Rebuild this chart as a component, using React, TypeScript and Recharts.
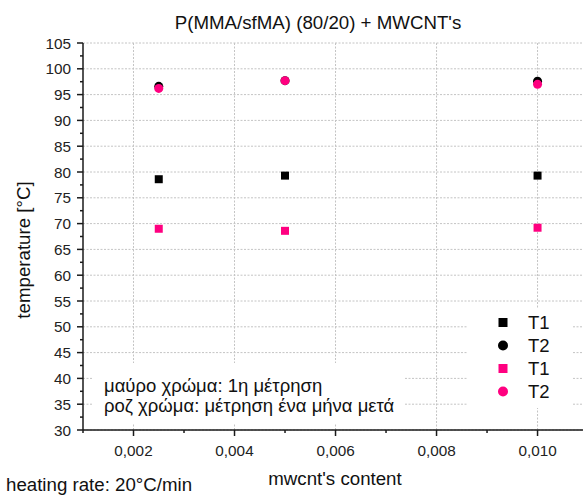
import { ScatterChart, Scatter, XAxis, YAxis, CartesianGrid, Legend } from 'recharts';

// x = mwcnt's content, y = temperature [°C]
const mwcntContent = [0.0025, 0.005, 0.01];
const t1First = [78.6, 79.3, 79.3];
const t2First = [96.6, 97.7, 97.6];
const t1Later = [69.0, 68.6, 69.2];
const t2Later = [96.2, 97.7, 97.0];

const xMajorTicks = [0.002, 0.004, 0.006, 0.008, 0.01];
const xMinorTicks = [0.001, 0.003, 0.005, 0.007, 0.009];
const yMajorTicks = [30, 35, 40, 45, 50, 55, 60, 65, 70, 75, 80, 85, 90, 95, 100, 105];
const yMinorTicks = [32.5, 37.5, 42.5, 47.5, 52.5, 57.5, 62.5, 67.5, 72.5, 77.5, 82.5, 87.5, 92.5, 97.5, 102.5];

const legendItems = [
  { name: 'T1', color: '#000000', shape: 'square' },
  { name: 'T2', color: '#000000', shape: 'circle' },
  { name: 'T1', color: '#ff0080', shape: 'square' },
  { name: 'T2', color: '#ff0080', shape: 'circle' },
];

const FONT = '"Liberation Sans", Arial, sans-serif';
const AXIS = '#1a1a1a';
const PINK = '#ff0080';

const toPoints = (ys: number[]) => mwcntContent.map((x, i) => ({ x, y: ys[i] }));

const fmtX = (v: number) => v.toFixed(3).replace('.', ',');

const BottomTick = ({ x, y, payload }: any) => {
  const major = xMajorTicks.includes(payload.value);
  return (
    <g>
      <line x1={x} x2={x} y1={y} y2={y + (major ? 6 : 3)} stroke={AXIS} strokeWidth={1.5} />
      {major && (
        <text x={x} y={y + 25.5} textAnchor="middle" fontSize={15.3} fill="#222" fontFamily={FONT}>
          {fmtX(payload.value)}
        </text>
      )}
    </g>
  );
};

const TopTick = ({ x, y, payload }: any) => {
  const major = xMajorTicks.includes(payload.value);
  return <line x1={x} x2={x} y1={y} y2={y + (major ? 7 : 4)} stroke={AXIS} strokeWidth={1.5} />;
};

const LeftTick = ({ x, y, payload }: any) => {
  const major = yMajorTicks.includes(payload.value);
  return (
    <g>
      <line x1={x} x2={x - (major ? 6 : 3)} y1={y} y2={y} stroke={AXIS} strokeWidth={1.5} />
      {major && (
        <text x={x - 12} y={y} dy="0.36em" textAnchor="end" fontSize={15.3} fill="#222" fontFamily={FONT}>
          {payload.value}
        </text>
      )}
    </g>
  );
};

const RightTick = ({ x, y, payload }: any) => {
  const major = yMajorTicks.includes(payload.value);
  return <line x1={x} x2={x - (major ? 4 : 2)} y1={y} y2={y} stroke={AXIS} strokeWidth={1.5} />;
};

const LegendBox = () => (
  <div style={{ background: '#fff', width: 105, height: 100, paddingTop: 2.5, boxSizing: 'border-box', fontFamily: FONT }}>
    {legendItems.map((item, i) => (
      <div key={i} style={{ display: 'flex', alignItems: 'center', height: 23 }}>
        <svg width={60} height={23} style={{ flex: 'none' }}>
          {item.shape === 'square' ? (
            <rect x={30.5} y={7} width={9} height={9} fill={item.color} />
          ) : (
            <circle cx={35} cy={11.5} r={5} fill={item.color} />
          )}
        </svg>
        <span style={{ fontSize: 18.5, lineHeight: '23px', color: '#111' }}>{item.name}</span>
      </div>
    ))}
  </div>
);

export default function App() {
  return (
    <div style={{ position: 'absolute', left: 0, top: 0, width: 583, height: 495, background: '#fff' }}>
      <ScatterChart width={583} height={495} margin={{ top: 43, right: 0, bottom: 35, left: 43 }}>
        <CartesianGrid
          stroke="#c4c4c4"
          strokeDasharray="2 1.5"
          verticalValues={xMajorTicks}
          horizontalValues={yMajorTicks}
        />
        <XAxis
          dataKey="x"
          type="number"
          domain={[0.001, 0.0109]}
          allowDataOverflow
          ticks={[...xMinorTicks, ...xMajorTicks].sort((a, b) => a - b)}
          interval={0}
          height={30}
          tickSize={0}
          tickMargin={0}
          tickLine={false}
          tick={<BottomTick />}
          axisLine={{ stroke: AXIS, strokeWidth: 1.5 }}
        />
        <XAxis
          xAxisId="top"
          orientation="top"
          type="number"
          domain={[0.001, 0.0109]}
          allowDataOverflow
          ticks={[...xMinorTicks, ...xMajorTicks].sort((a, b) => a - b)}
          interval={0}
          height={0}
          tickSize={0}
          tickMargin={0}
          tickLine={false}
          tick={<TopTick />}
          axisLine={{ stroke: AXIS, strokeWidth: 1.5 }}
        />
        <YAxis
          dataKey="y"
          type="number"
          domain={[30, 105]}
          allowDataOverflow
          ticks={[...yMinorTicks, ...yMajorTicks].sort((a, b) => a - b)}
          interval={0}
          width={40}
          tickSize={0}
          tickMargin={0}
          tickLine={false}
          tick={<LeftTick />}
          axisLine={{ stroke: AXIS, strokeWidth: 1.5 }}
        />
        <YAxis
          yAxisId="right"
          orientation="right"
          type="number"
          domain={[30, 105]}
          allowDataOverflow
          ticks={yMajorTicks}
          interval={0}
          width={0}
          tickSize={0}
          tickMargin={0}
          tickLine={false}
          tick={<RightTick />}
          axisLine={false}
        />
        <Legend
          layout="horizontal"
          verticalAlign="middle"
          align="center"
          content={<LegendBox />}
          wrapperStyle={{ left: 468, top: 308, width: 105, height: 100 }}
        />
        <Scatter name="T1" data={toPoints(t1First)} fill="#000" shape="square" size={72} isAnimationActive={false} />
        <Scatter name="T2" data={toPoints(t2First)} fill="#000" shape="circle" size={78} isAnimationActive={false} />
        <Scatter name="T1" data={toPoints(t1Later)} fill={PINK} shape="square" size={72} isAnimationActive={false} />
        <Scatter name="T2" data={toPoints(t2Later)} fill={PINK} shape="circle" size={78} isAnimationActive={false} />
      </ScatterChart>
      <svg
        width={583}
        height={495}
        style={{ position: 'absolute', left: 0, top: 0, pointerEvents: 'none' }}
        fontFamily={FONT}
      >
        <text x={318} y={29} textAnchor="middle" fontSize={18.7} fill="#111">
          P(MMA/sfMA) (80/20) + MWCNT's
        </text>
        <text x={29.5} y={250} transform="rotate(-90 29.5 250)" textAnchor="middle" fontSize={18.7} fill="#111">
          temperature [°C]
        </text>
        <text x={335} y={485} textAnchor="middle" fontSize={18.7} fill="#111">
          mwcnt's content
        </text>
        <text x={6} y={491} fontSize={18.7} fill="#111">
          heating rate: 20°C/min
        </text>
        <rect x={93} y={363} width={312} height={60} fill="#fff" />
        <text x={104} y={392} fontSize={18.5} fill="#111">
          μαύρο χρώμα: 1η μέτρηση
        </text>
        <text x={104} y={412} fontSize={18.5} fill="#111">
          ροζ χρώμα: μέτρηση ένα μήνα μετά
        </text>
      </svg>
    </div>
  );
}
